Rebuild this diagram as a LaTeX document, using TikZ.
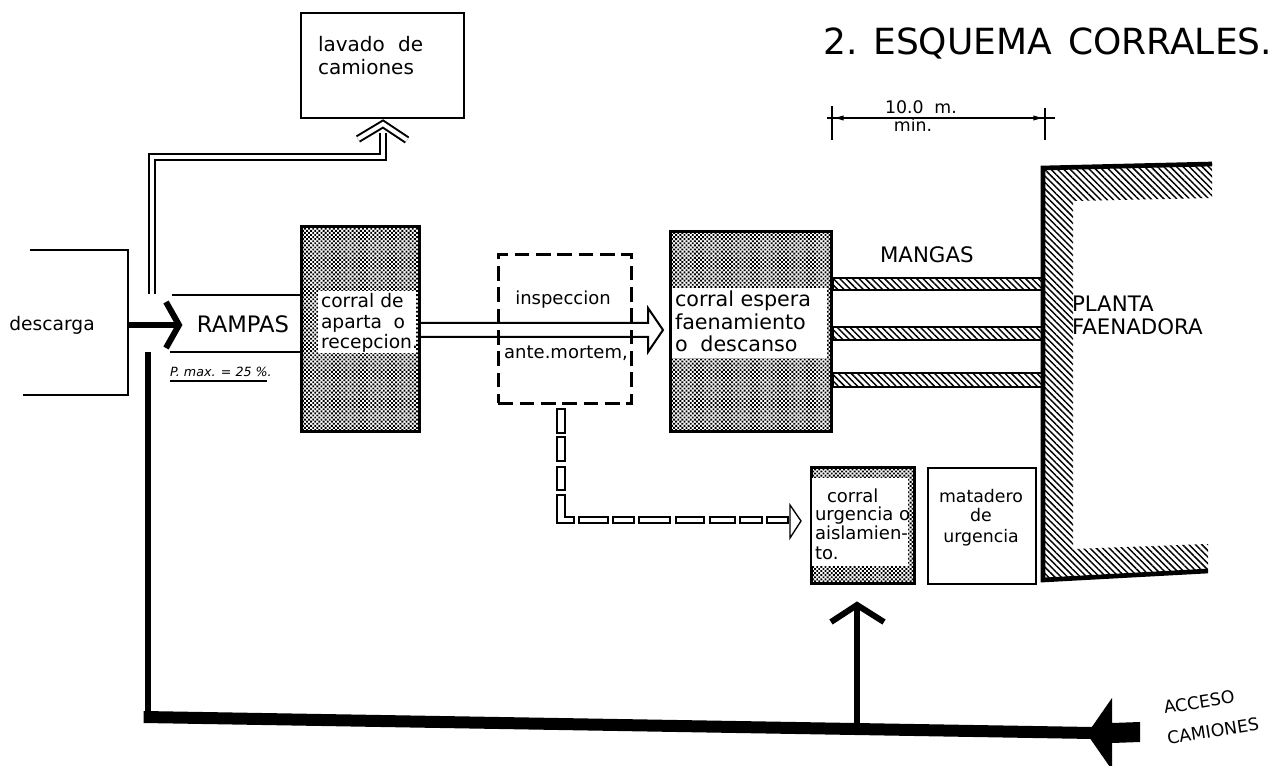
\documentclass[tikz,border=0pt]{standalone}
\usepackage{fontspec}
\setmainfont{DejaVu Sans}
\usetikzlibrary{patterns,patterns.meta,arrows.meta}
\newcommand\szf[2]{\fontsize{#1}{#2}\selectfont}
\begin{document}
\begin{tikzpicture}[x=0.75pt,y=-0.75pt,
  lbl/.style={inner sep=0pt, outer sep=0pt},
  boxline/.style={draw, line width=1.6pt, inner sep=0pt, anchor=north west},
  dotbox/.style={draw, line width=2pt, inner sep=0pt, anchor=north west,
     pattern={Dots[radius=1.0pt,distance=2.2pt,angle=45]}},
  hatch/.style={pattern={Lines[angle=-45,distance=3.4pt,line width=1.1pt]}},
  dbl/.style={draw, double=white, line width=1.5pt, double distance=3pt, line join=miter},
  thickline/.style={line width=4.5pt},
  hollow/.style={draw, line width=1pt, fill=white},
  txa/.style={lbl, font=\szf{14}{17}},
  txb/.style={lbl, font=\szf{13.5}{16}},
]
\useasboundingbox (0,0) rectangle (1275,766);
\fill[white] (0,0) rectangle (1275,766);

% title
\node[lbl, anchor=base east, font=\szf{27}{30}] (title) at (1272,55) {2. ESQUEMA\hspace{0.45em}CORRALES.};

% lavado de camiones
\node[boxline, minimum width=122.25pt, minimum height=78.75pt] (lav) at (300,12) {};
\node[lbl, anchor=base west, font=\szf{15}{18}] (lav1) at (318,52) {lavado\hspace{0.35em} de};
\node[lbl, anchor=base west, font=\szf{15}{18}] (lav2) at (318,75) {camiones};

% descarga (open box)
\draw[line width=1.5pt] (30,250) -- (128,250) -- (128,395) -- (23,395);
\coordinate (desc) at (128,325);
\node[lbl, anchor=base, font=\szf{14}{17}] (desct) at (52,331) {descarga};

% rampas
\draw[line width=1.8pt] (172,295) -- (300,295);
\draw[line width=1.8pt] (170,352) -- (300,352);
\node[lbl, anchor=base, font=\szf{17}{20}] (ramp) at (243,333) {RAMPAS};
\node[lbl, anchor=base west, font=\szf{9.5}{11}\itshape] (pmax) at (170,377) {P. max. = 25 \%.};
\draw[line width=1pt] (170,381) -- (267,381);

% corral de aparta
\node[dotbox, minimum width=88.5pt, minimum height=153.75pt] (aparta) at (300,225) {};
\fill[white] (318,291) rectangle (416,353);
\node[txa, anchor=base west] (ap1) at (321,308) {corral de};
\node[txa, anchor=base west] (ap2) at (321,329) {aparta\hspace{0.3em} o};
\node[txa, anchor=base west] (ap3) at (321,349) {recepcion.};

% descarga arrow
\draw[thickline] (desc) -- (176,325);
\draw[thickline, line join=miter] (166,302) -- (179,325) -- (166,348);

% left double line up to lavado
\draw[dbl] (358,139) -- (383,124) -- (407,140);
\draw[dbl] (152,294) -- (152,157) -- (383,157) -- (383,133);

% left thick line and bottom road
\draw[line width=5pt] (148,352) -- (148,721);
\draw[line width=9pt] (143.6,717) -- (1092,733);

% main hollow arrow aparta -> espera
\draw[line width=1.5pt, line join=miter] (aparta.east |- 0,323) -- (648,323) -- (648,308) -- (663,330) -- (648,352) -- (648,337) -- (aparta.east |- 0,337);

% inspeccion
\node[draw, line width=2.2pt, dash pattern=on 11pt off 5pt, anchor=north west, inner sep=0pt,
      minimum width=99.75pt, minimum height=111.75pt] (insp) at (497,253) {};
\node[txb, anchor=base] (in1) at (563,305) {inspeccion};
\node[txb, anchor=base] (in2) at (566,359) {ante.mortem,};

% corral espera
\node[dotbox, minimum width=120.75pt, minimum height=150pt] (esp) at (669,230) {};
\fill[white] (672,288) rectangle (827,358);
\node[lbl, anchor=base west, font=\szf{15.5}{18}] (es1) at (675,307) {corral espera};
\node[lbl, anchor=base west, font=\szf{15.5}{18}] (es2) at (675,330) {faenamiento};
\node[lbl, anchor=base west, font=\szf{15.5}{18}] (es3) at (675,352) {o\hspace{0.3em} descanso};

% mangas
\foreach \ya/\yb in {278/290, 327/340, 373/387}
  \draw[line width=1.5pt, hatch] (esp.east |- 0,\ya) rectangle (1043,\yb);
\node[lbl, anchor=base west, font=\szf{16}{19}] (mang) at (880,263) {MANGAS};

% planta faenadora
\path[hatch] (1043,168) -- (1212,163) -- (1212,198) -- (1073,201) -- (1073,549) -- (1208,544) -- (1208,571) -- (1043,580) -- cycle;
\draw[line width=3.5pt, line join=miter] (1212,164) -- (1043,168) -- (1043,580) -- (1208,571);
\node[lbl, anchor=base west, font=\szf{16}{19}] (pl1) at (1072,312) {PLANTA};
\node[lbl, anchor=base west, font=\szf{16}{19}] (pl2) at (1072,335) {FAENADORA};

% dimension 10.0 m min
\draw[line width=1pt] (827,118) -- (1055,118);
\draw[line width=1pt] (832,106) -- (832,140);
\draw[line width=1pt] (1045,108) -- (1045,140);
\draw[line width=1pt, -{Latex[length=8pt,width=4pt]}] (852,118) -- (833,118);
\draw[line width=1pt, -{Latex[length=8pt,width=4pt]}] (1025,118) -- (1044,118);
\node[lbl, anchor=base, font=\szf{13}{15}] (dim1) at (921,114) {10.0\hspace{0.3em} m.};
\node[lbl, anchor=base, font=\szf{13}{15}] (dim2) at (913,132) {min.};

% corral urgencia
\node[dotbox, minimum width=77.25pt, minimum height=87pt] (urg) at (810,466) {};
\fill[white] (812,478) rectangle (908,566);
\node[txb, anchor=base west] (ur1) at (827,503) {corral};
\node[txb, anchor=base west] (ur2) at (815,521) {urgencia o};
\node[txb, anchor=base west] (ur3) at (815,540) {aislamien-};
\node[txb, anchor=base west] (ur4) at (815,559) {to.};

% matadero de urgencia
\node[boxline, minimum width=81pt, minimum height=87pt] (mat) at (927,467) {};
\node[lbl, anchor=base, font=\szf{13}{15}] (ma1) at (981,503) {matadero};
\node[lbl, anchor=base, font=\szf{13}{15}] (ma2) at (981,522) {de};
\node[lbl, anchor=base, font=\szf{13}{15}] (ma3) at (981,542) {urgencia};

% hollow dashed connector inspeccion -> urgencia
\foreach \ya/\yb in {409/433, 437/461, 467/490}
  \draw[hollow] (557,\ya) rectangle (565,\yb);
\draw[hollow] (557,495) -- (557,523) -- (574,523) -- (574,517) -- (565,517) -- (565,495) -- cycle;
\foreach \xa/\xb in {579/608, 613/634, 639/670, 676/704, 710/735, 740/762, 767/788}
  \draw[hollow] (\xa,517) rectangle (\xb,523);
\draw[hollow] (790,505) -- (801,521) -- (790,538) -- cycle;

% up arrow from road to urgencia
\coordinate (road) at (857,728);
\draw[line width=4pt] (road) -- (857,606);
\draw[line width=4.5pt, line join=miter] (831,622) -- (857,605) -- (884,622);

% acceso camiones arrow
\fill (1087,734) -- (1112,698) -- (1112,723) -- (1140,722) -- (1140,742) -- (1112,743) -- (1112,770) -- cycle;
\node[lbl, rotate=9, font=\szf{13}{16}] (acc1) at (1199,702) {ACCESO};
\node[lbl, rotate=9, font=\szf{13}{16}] (acc2) at (1213,731) {CAMIONES};
\end{tikzpicture}
\end{document}
